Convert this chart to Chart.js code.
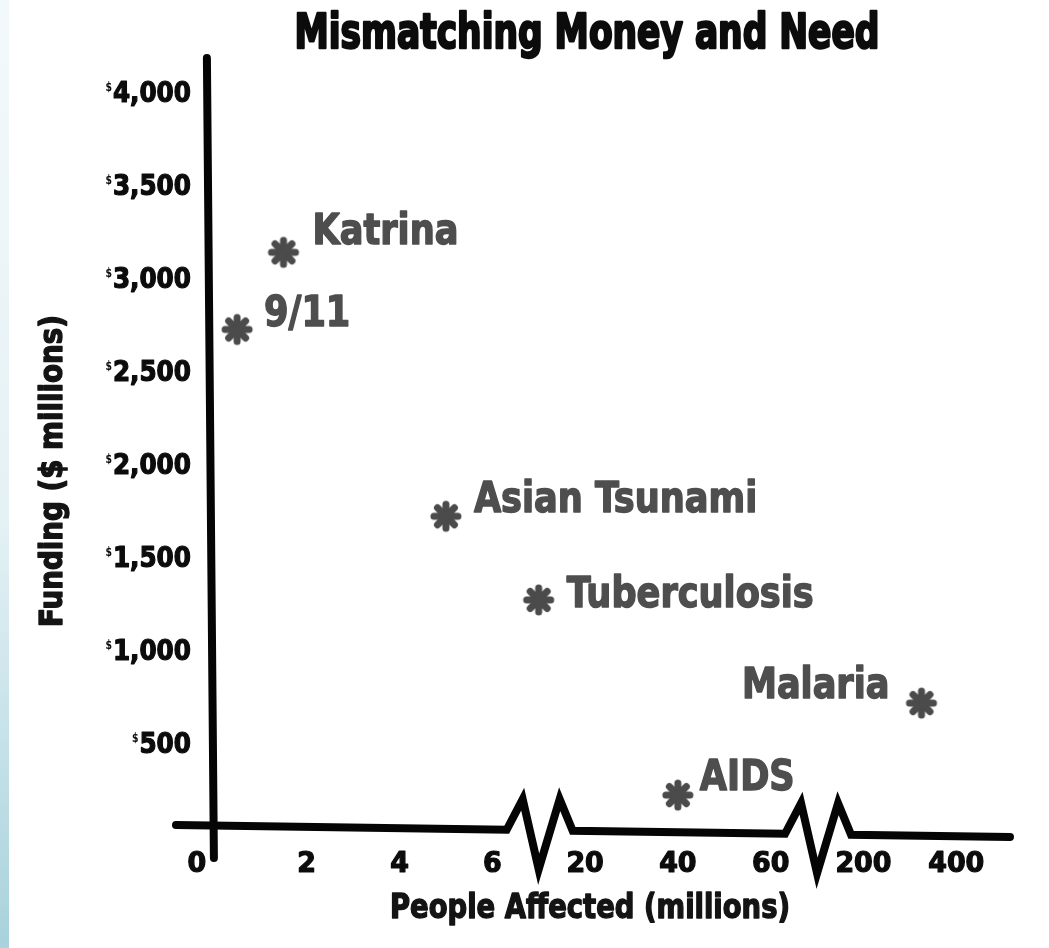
<!DOCTYPE html>
<html lang="en">
<head>
  <meta charset="UTF-8">
  <title>Mismatching Money and Need</title>
  <script src="https://cdn.jsdelivr.net/npm/chart.js"></script>
  <style>
    body, html {
      margin: 0;
      padding: 0;
      background: #fff;
      overflow: hidden;
    }
    .edge {
      position: absolute;
      left: 0;
      top: 0;
      width: 9px;
      height: 948px;
      background: linear-gradient(180deg, #f3f9fb 0%, #e4f1f5 55%, #a9d2dc 100%);
    }
    #wrap {
      position: absolute;
      left: 0;
      top: 0;
      width: 1049px;
      height: 948px;
    }
  </style>
</head>
<body>
  <div class="edge"></div>
  <div id="wrap"><canvas id="chart"></canvas></div>

  <script>
    // values
    const events = ['9/11', 'Katrina', 'Asian Tsunami', 'Tuberculosis', 'Malaria', 'AIDS'];
    const peopleAffected = [0.5, 1.5, 5, 13, 325, 40];      // millions
    const funding = [2725, 3140, 1720, 1270, 715, 220];     // $ millions
    const xTickValues = [0, 2, 4, 6, 20, 40, 60, 200, 400];
    const xTickLabels = ['0', '2', '4', '6', '20', '40', '60', '200', '400'];
    const yTickValues = [500, 1000, 1500, 2000, 2500, 3000, 3500, 4000];

    // where each label sits next to its star
    const labelPlace = {
      '9/11':          { dx: 27, dy: -3, align: 'left' },
      'Katrina':       { dx: 29, dy: -8, align: 'left' },
      'Asian Tsunami': { dx: 28, dy: -4, align: 'left' },
      'Tuberculosis':  { dx: 28, dy: 7, align: 'left' },
      'Malaria':       { dx: -32, dy: -5, align: 'right' },
      'AIDS':          { dx: 22, dy: -5, align: 'left' }
    };

    const FONT = "'DejaVu Sans Condensed', 'Liberation Sans Narrow', 'Arial Narrow', 'DejaVu Sans', sans-serif";

    // broken axis: each tick gets one slot, values in between are linear
    function toSlot(v) {
      for (let i = 1; i < xTickValues.length; i++) {
        if (v <= xTickValues[i]) {
          const a = xTickValues[i - 1], b = xTickValues[i];
          return i - 1 + (v - a) / (b - a);
        }
      }
      return xTickValues.length - 1;
    }

    function asterisk(color) {
      const c = document.createElement('canvas');
      c.width = c.height = 36;
      const g = c.getContext('2d');
      g.strokeStyle = color;
      g.lineWidth = 7;
      g.lineCap = 'round';
      g.translate(18, 18);
      for (let k = 0; k < 4; k++) {
        g.beginPath();
        g.moveTo(-12, 0);
        g.lineTo(12, 0);
        g.stroke();
        g.rotate(Math.PI / 4);
      }
      return c;
    }

    // draws text squeezed horizontally, with a thin outline to make it heavier
    function squeeze(ctx, text, x, y, sx, align, heavy) {
      ctx.save();
      ctx.translate(x, y);
      ctx.scale(sx, 1);
      ctx.textAlign = align;
      ctx.fillText(text, 0, 0);
      if (heavy) {
        ctx.strokeStyle = ctx.fillStyle;
        ctx.lineWidth = heavy;
        ctx.lineJoin = 'round';
        ctx.strokeText(text, 0, 0);
      }
      ctx.restore();
    }

    const handDrawn = {
      id: 'handDrawn',
      beforeDatasetsDraw(chart) {
        const { ctx, scales: { x, y } } = chart;
        const x0 = x.getPixelForValue(0);
        const base = y.getPixelForValue(0) - 11;
        ctx.save();
        ctx.strokeStyle = '#050505';
        ctx.lineWidth = 8;
        ctx.lineCap = 'round';
        ctx.lineJoin = 'miter';

        // vertical axis
        ctx.beginPath();
        ctx.moveTo(x0 - 7, y.top - 1);
        ctx.lineTo(x0, base + 33);
        ctx.stroke();

        // horizontal axis with two zigzag breaks
        const left = x.left + 2, right = x.right - 1;
        const yAt = px => base + (px - left) / (right - left) * 12;
        const breaks = [3.5, 6.5].map(s => x.getPixelForValue(s));
        ctx.beginPath();
        ctx.moveTo(left, yAt(left));
        breaks.forEach(c => {
          ctx.lineTo(c - 32, yAt(c - 32));
          ctx.lineTo(c - 16, yAt(c) - 31);
          ctx.lineTo(c, yAt(c) + 39);
          ctx.lineTo(c + 21, yAt(c) - 31);
          ctx.lineTo(c + 34, yAt(c + 34));
        });
        ctx.lineTo(right, yAt(right));
        ctx.stroke();
        ctx.restore();
      },
      afterDatasetsDraw(chart) {
        const { ctx, scales: { x, y } } = chart;
        const x0 = x.getPixelForValue(0);
        ctx.save();
        ctx.textBaseline = 'alphabetic';

        // title
        ctx.fillStyle = '#0c0c0c';
        ctx.font = 'bold 48px ' + FONT;
        const title = 'Mismatching Money and Need';
        squeeze(ctx, title, 587, 48, 585 / ctx.measureText(title).width, 'center', 2.4);

        // y tick labels with small raised $
        ctx.font = 'bold 28px ' + FONT;
        const sy = 78 / ctx.measureText('4,000').width;
        yTickValues.forEach(v => {
          const py = y.getPixelForValue(v);
          const txt = v.toLocaleString('en-US');
          ctx.font = 'bold 28px ' + FONT;
          squeeze(ctx, txt, x0 - 23, py + 10, sy, 'right', 1.2);
          const w = ctx.measureText(txt).width * sy;
          ctx.font = 'bold 13px ' + FONT;
          squeeze(ctx, '$', x0 - 24 - w, py - 1, 0.8, 'right');
        });

        // x tick labels
        ctx.font = 'bold 28px ' + FONT;
        const sx = 56 / ctx.measureText('400').width;
        xTickValues.forEach((v, i) => {
          let px = x.getPixelForValue(toSlot(v));
          if (v === 0) px -= 17;
          squeeze(ctx, xTickLabels[i], px, 872, sx, 'center', 1.2);
        });

        // axis titles
        ctx.fillStyle = '#141414';
        ctx.font = 'bold 34px ' + FONT;
        const xt = 'People Affected (millions)';
        squeeze(ctx, xt, 590, 918, 400 / ctx.measureText(xt).width, 'center', 1.4);

        ctx.font = 'bold 32px ' + FONT;
        const yt = 'Funding ($ millions)';
        ctx.save();
        ctx.translate(62, 471);
        ctx.rotate(-Math.PI / 2);
        squeeze(ctx, yt, 0, 0, 312 / ctx.measureText(yt).width, 'center', 1.4);
        ctx.restore();

        // event labels
        ctx.fillStyle = '#4e4e4e';
        ctx.font = 'bold 42px ' + FONT;
        const sl = 247 / ctx.measureText('Tuberculosis').width;
        const meta = chart.getDatasetMeta(0);
        events.forEach((name, i) => {
          const p = meta.data[i];
          const lp = labelPlace[name];
          squeeze(ctx, name, p.x + lp.dx, p.y + lp.dy, sl, lp.align, 1.4);
        });
        ctx.restore();
      }
    };

    const star = asterisk('#4b4b4b');

    new Chart(document.getElementById('chart'), {
      type: 'scatter',
      data: {
        datasets: [{
          label: 'Funding',
          data: peopleAffected.map((v, i) => ({ x: toSlot(v), y: funding[i] })),
          pointStyle: star,
          pointRadius: 16,
          pointHoverRadius: 16,
          clip: false
        }]
      },
      options: {
        responsive: true,
        maintainAspectRatio: false,
        animation: false,
        events: [],
        layout: { padding: { left: 174, right: 38, top: 59, bottom: 112 } },
        scales: {
          x: { type: 'linear', min: -0.43, max: 8.59, display: false },
          y: { type: 'linear', min: 0, max: 4180, display: false }
        },
        plugins: {
          legend: { display: false },
          tooltip: { enabled: false }
        }
      },
      plugins: [handDrawn]
    });
  </script>
</body>
</html>
